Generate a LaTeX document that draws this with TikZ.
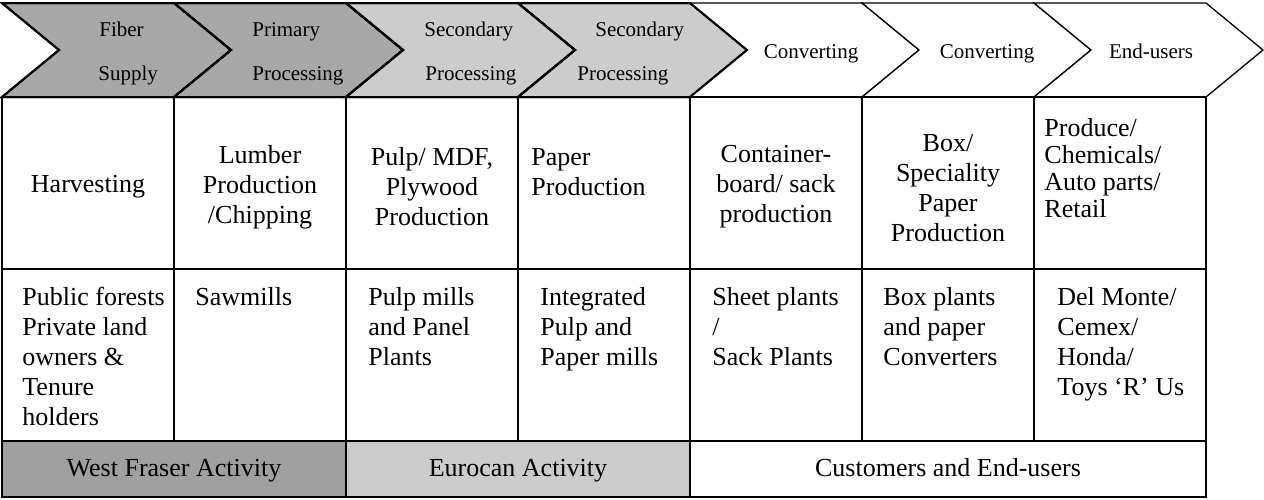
\documentclass[tikz,border=0pt]{standalone}
\usepackage{fontspec}
\setmainfont{Liberation Serif}
\definecolor{dkgray}{RGB}{168,168,168}
\definecolor{ltgray}{RGB}{204,204,204}
\definecolor{wfgray}{RGB}{160,160,160}
\begin{document}
\begin{tikzpicture}[x=0.5pt,y=-0.5pt,
  chevg/.style={draw=black,line width=1pt,line join=miter},
  chevw/.style={draw=black,line width=0.65pt,line join=miter},
  gridline/.style={draw=black,line width=0.7pt},
  hdr/.style={font=\fontsize{10.5}{12}\selectfont,inner sep=0pt},
  cellc/.style={font=\fontsize{13}{15}\selectfont,inner sep=0pt,align=center},
  celll/.style={font=\fontsize{13}{15}\selectfont,inner sep=0pt,align=left},
  cellt/.style={font=\fontsize{13}{13.6}\selectfont,inner sep=0pt,align=left},
  barc/.style={font=\fontsize{13}{15}\selectfont,inner sep=0pt}]
\useasboundingbox (0,0) rectangle (1264,499);
% chevrons
\foreach \k/\c/\s in {0/dkgray/chevg,1/dkgray/chevg,2/ltgray/chevg,3/ltgray/chevg,4/white/chevw,5/white/chevw,6/white/chevw}{
  \path[\s,fill=\c] ({2+172*\k},3) -- ++(172,0) -- ++(57,47) -- ++(-57,47) -- ++(-172,0) -- ++(57,-47) -- cycle;
}
\foreach \k in {0,1,2,3}{
  \draw[chevg] ({2+172*\k},3) -- ++(172,0) -- ++(57,47) -- ++(-57,47) -- ++(-172,0) -- ++(57,-47) -- cycle;
}
% header labels
\node[hdr,anchor=base west] (c1a) at (99,36) {Fiber};
\node[hdr,anchor=base west] (c1b) at (98,80) {Supply};
\node[hdr,anchor=base west] (c2a) at (252,36) {Primary};
\node[hdr,anchor=base west] (c2b) at (252,80) {Processing};
\node[hdr,anchor=base west] (c3a) at (424,36) {Secondary};
\node[hdr,anchor=base west] (c3b) at (425,80) {Processing};
\node[hdr,anchor=base west] (c4a) at (595,36) {Secondary};
\node[hdr,anchor=base west] (c4b) at (577,80) {Processing};
\node[hdr,anchor=base] (c5) at (811,58) {Converting};
\node[hdr,anchor=base] (c6) at (987,58) {Converting};
\node[hdr,anchor=base] (c7) at (1151,58) {End-users};
% bottom bar fills
\fill[wfgray] (2,441) rectangle (346,497);
\fill[ltgray] (346,441) rectangle (690,497);
% table grid
\draw[gridline] (2,97) rectangle (1206,497);
\draw[gridline] (2,269) -- (1206,269);
\draw[gridline] (2,441) -- (1206,441);
\foreach \x in {174,346,518,690,862,1034}{
  \draw[gridline] (\x,97) -- (\x,441);
}
\draw[gridline] (346,441) -- (346,497);
\draw[gridline] (690,441) -- (690,497);
% row 1
\node[cellc] (r1a) at (88,187) {Harvesting};
\node[cellc] (r1b) at (260,187) {Lumber\\Production\\/Chipping};
\node[cellc] (r1c) at (432,187) {Pulp/ MDF,\\Plywood\\Production};
\node[celll,anchor=west] (r1d) at (531,172) {Paper\\Production};
\node[cellc] (r1e) at (776,187) {Container-\\board/ sack\\production};
\node[cellc] (r1f) at (948,188) {Box/\\Speciality\\Paper\\Production};
\node[cellt,anchor=west] (r1g) at (1044,168) {Produce/\\Chemicals/\\Auto parts/\\Retail};
% row 2
\node[celll,anchor=north west] (r2a) at (22,287) {Public forests\\Private land\\owners \&\\Tenure\\holders};
\node[celll,anchor=north west] (r2b) at (195,287) {Sawmills};
\node[celll,anchor=north west] (r2c) at (368,287) {Pulp mills\\and Panel\\Plants};
\node[celll,anchor=north west] (r2d) at (540,287) {Integrated\\Pulp and\\Paper mills};
\node[celll,anchor=north west] (r2e) at (712,287) {Sheet plants\\/\\Sack Plants};
\node[celll,anchor=north west] (r2f) at (883,287) {Box plants\\and paper\\Converters};
\node[celll,anchor=north west] (r2g) at (1057,287) {Del Monte/\\Cemex/\\Honda/\\Toys ‘R’ Us};
% bottom bar
\node[barc,anchor=base] (b1) at (174,476) {West Fraser Activity};
\node[barc,anchor=base] (b2) at (518,476) {Eurocan Activity};
\node[barc,anchor=base] (b3) at (948,476) {Customers and End-users};
\end{tikzpicture}
\end{document}
